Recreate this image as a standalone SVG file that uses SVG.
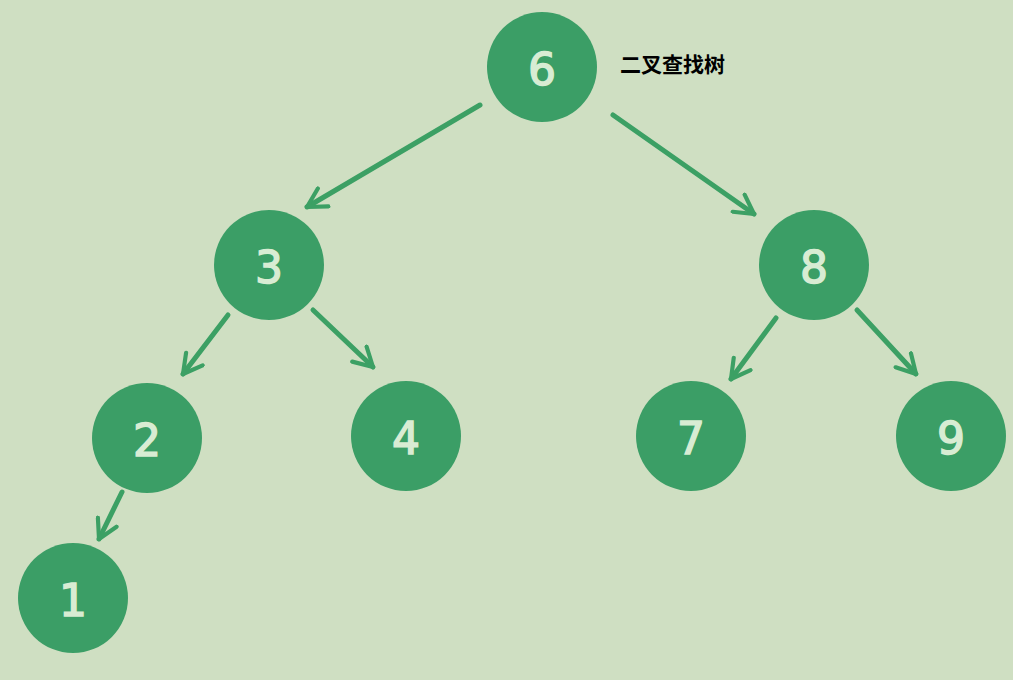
<svg xmlns="http://www.w3.org/2000/svg" width="1013" height="680" viewBox="0 0 1013 680">
<defs>
<style>
.bg{fill:#cfdfc2}
.node circle{fill:#3b9e66}
.node text{fill:#d8ecd3;stroke:#d8ecd3;stroke-width:1.5;font-family:"DejaVu Sans",sans-serif;font-size:44px;text-anchor:middle;dominant-baseline:central}
.edge{stroke:#3ca064;stroke-width:5;stroke-linecap:round;fill:none;marker-end:url(#ah)}
.label{font-family:"Noto Sans CJK SC","Noto Sans",sans-serif;font-size:21px;font-weight:bold;fill:#000}
</style>
<marker id="ah" viewBox="0 0 12 12" refX="10" refY="6" markerWidth="5" markerHeight="5" orient="auto" markerUnits="strokeWidth">
<path d="M1,1 L10,6 L1,11" fill="none" stroke="#3ca064" stroke-width="2" stroke-linecap="round" stroke-linejoin="round"/>
</marker>
</defs>
<rect class="bg" x="0" y="0" width="1013" height="680"/>
<g id="connectors">
<line class="edge" x1="480" y1="105" x2="307" y2="207"/>
<line class="edge" x1="613" y1="115" x2="754" y2="214"/>
<line class="edge" x1="228" y1="315" x2="183" y2="374"/>
<line class="edge" x1="313" y1="310" x2="373" y2="367"/>
<line class="edge" x1="776" y1="318" x2="731" y2="379"/>
<line class="edge" x1="857" y1="310" x2="916" y2="374"/>
<line class="edge" x1="122" y1="492" x2="99" y2="539"/>
</g>
<g id="n6" class="node"><circle cx="542" cy="67" r="55"/><text x="542" y="69">6</text></g>
<g id="n3" class="node"><circle cx="269" cy="265" r="55"/><text x="269" y="267">3</text></g>
<g id="n8" class="node"><circle cx="814" cy="265" r="55"/><text x="814" y="267">8</text></g>
<g id="n2" class="node"><circle cx="147" cy="438" r="55"/><text x="147" y="440">2</text></g>
<g id="n4" class="node"><circle cx="406" cy="436" r="55"/><text x="406" y="438">4</text></g>
<g id="n7" class="node"><circle cx="691" cy="436" r="55"/><text x="691" y="438">7</text></g>
<g id="n9" class="node"><circle cx="951" cy="436" r="55"/><text x="951" y="438">9</text></g>
<g id="n1" class="node"><circle cx="73" cy="598" r="55"/><text x="73" y="600">1</text></g>
<text class="label" x="620" y="72">二叉查找树</text>
</svg>
